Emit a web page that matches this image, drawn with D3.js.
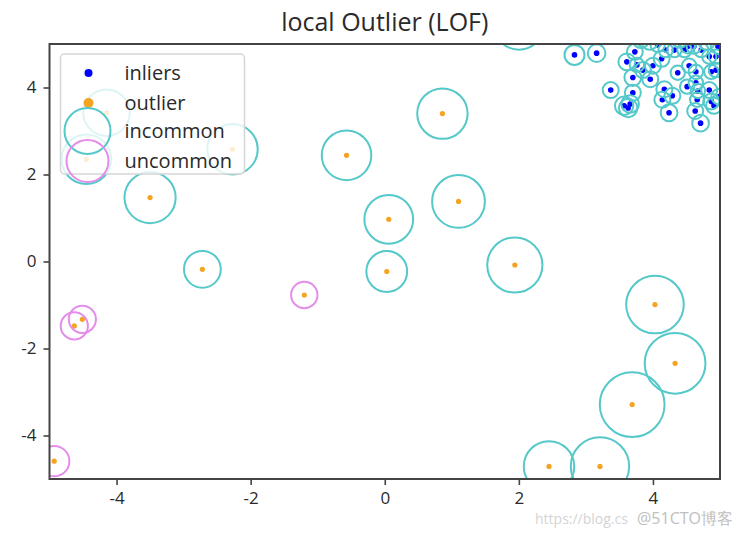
<!DOCTYPE html>
<html>
<head>
<meta charset="utf-8">
<script src="https://cdn.jsdelivr.net/npm/d3@7"></script>
<style>
  body { margin: 0; background: white; }
  text { font-family: "Open Sans", "Noto Sans", sans-serif; }
</style>
</head>
<body>
<div id="chart"></div>
<script>
// inliers (dense corner cluster)
const inlierX = [2.83, 3.16, 3.73, 3.61, 3.76, 3.85, 4.00, 4.13, 3.70, 3.96,
                 3.37, 3.70, 3.57, 3.63, 3.66, 4.17, 4.14, 4.29, 4.24, 4.37,
                 4.54, 4.64, 4.51, 4.64, 4.67, 4.66, 4.63, 4.71, 4.84, 4.87,
                 4.91, 4.99, 4.87, 4.94, 4.84, 4.94, 4.72, 4.61, 4.47, 4.32,
                 4.19, 4.07, 4.52, 4.97, 3.82, 3.95, 4.40, 4.80];
const inlierY = [4.75, 4.79, 4.82, 4.59, 4.52, 4.40, 4.50, 4.66, 4.23, 4.19,
                 3.94, 3.88, 3.58, 3.53, 3.62, 3.96, 3.72, 3.81, 3.42, 4.34,
                 4.50, 4.36, 4.02, 4.11, 3.92, 3.72, 3.46, 3.18, 3.94, 3.68,
                 3.58, 3.79, 4.36, 4.40, 4.71, 4.71, 4.86, 4.94, 4.86, 4.86,
                 4.86, 4.98, 4.95, 4.94, 5.09, 5.05, 5.10, 5.05];
const inlierScore = [0.25, 0.22, 0.20, 0.21, 0.18, 0.20, 0.20, 0.20, 0.21, 0.20,
                     0.20, 0.20, 0.23, 0.23, 0.22, 0.20, 0.20, 0.20, 0.21, 0.18,
                     0.18, 0.18, 0.18, 0.18, 0.18, 0.18, 0.20, 0.21, 0.20, 0.20,
                     0.20, 0.20, 0.18, 0.18, 0.18, 0.18, 0.18, 0.18, 0.18, 0.18,
                     0.18, 0.18, 0.18, 0.18, 0.20, 0.20, 0.20, 0.20];

// outliers
const outlierX = [0.86, -0.57, 0.06, 1.10, 0.03, 1.94, -3.50, -2.72, -1.20, -4.51,
                  -4.63, 4.03, 4.33, 3.69, 2.45, 3.21, -4.93, -4.15, -2.27, -4.45, 2.00];
const outlierY = [3.40, 2.44, 0.97, 1.38, -0.23, -0.08, 1.47, -0.18, -0.77, -1.33,
                  -1.48, -0.99, -2.34, -3.29, -4.71, -4.71, -4.59, 3.42, 2.58, 2.35, 5.45];
const outlierScore = [0.63, 0.62, 0.61, 0.66, 0.51, 0.69, 0.64, 0.46, 0.33, 0.34,
                      0.34, 0.72, 0.76, 0.81, 0.63, 0.73, 0.38, 0.58, 0.63, 0.62, 0.63];
const outlierKind = ["in", "in", "in", "in", "in", "in", "in", "in", "un", "un",
                     "un", "in", "in", "in", "in", "in", "un", "in", "in", "in", "in"];

const xTicks = [-4, -2, 0, 2, 4];
const yTicks = [-4, -2, 0, 2, 4];
const legendLabels = ["inliers", "outlier", "incommon", "uncommon"];

function createFigure(containerId) {
    const width = 740;
    const height = 536;
    const margin = { top: 44, right: 20, bottom: 57, left: 49.5 };
    const w = width - margin.left - margin.right;
    const h = height - margin.top - margin.bottom;

    const teal = "#55c8ca";
    const violet = "#e48ce9";

    const svg = d3.select(`#${containerId}`)
        .append("svg")
        .attr("width", width)
        .attr("height", height);

    const x = d3.scaleLinear().domain([-5, 5]).range([0, w]);
    const y = d3.scaleLinear().domain([-5, 5]).range([h, 0]);
    const r = d3.scaleLinear().domain([0, 1]).range([0, 40]);

    const inliers = inlierX.map((d, i) => ({ x: d, y: inlierY[i], s: inlierScore[i], kind: "in" }));
    const outliers = outlierX.map((d, i) => ({ x: d, y: outlierY[i], s: outlierScore[i], kind: outlierKind[i] }));
    const all = inliers.concat(outliers);

    svg.append("defs").append("clipPath")
        .attr("id", "plot-clip")
        .append("rect")
        .attr("width", w)
        .attr("height", h);

    const g = svg.append("g")
        .attr("transform", `translate(${margin.left},${margin.top})`);

    const plot = g.append("g").attr("clip-path", "url(#plot-clip)");

    // points
    plot.selectAll("circle.inlier")
        .data(inliers)
        .enter()
        .append("circle")
        .attr("cx", d => x(d.x))
        .attr("cy", d => y(d.y))
        .attr("r", 2.8)
        .attr("fill", "#0000ff");

    plot.selectAll("circle.outlier")
        .data(outliers)
        .enter()
        .append("circle")
        .attr("cx", d => x(d.x))
        .attr("cy", d => y(d.y))
        .attr("r", 2.6)
        .attr("fill", "#f5a322");

    // score rings
    plot.selectAll("circle.ring-in")
        .data(all.filter(d => d.kind === "in"))
        .enter()
        .append("circle")
        .attr("cx", d => x(d.x))
        .attr("cy", d => y(d.y))
        .attr("r", d => r(d.s))
        .attr("fill", "none")
        .attr("stroke", teal)
        .attr("stroke-width", 2);

    plot.selectAll("circle.ring-un")
        .data(all.filter(d => d.kind === "un"))
        .enter()
        .append("circle")
        .attr("cx", d => x(d.x))
        .attr("cy", d => y(d.y))
        .attr("r", d => r(d.s))
        .attr("fill", "none")
        .attr("stroke", violet)
        .attr("stroke-width", 2);

    // axes
    const xAxis = g.append("g")
        .attr("transform", `translate(0,${h})`)
        .call(d3.axisBottom(x).tickValues(xTicks).tickSize(6).tickPadding(7).tickFormat(d3.format("d")));
    const yAxis = g.append("g")
        .call(d3.axisLeft(y).tickValues(yTicks).tickSize(6).tickPadding(7).tickFormat(d3.format("d")));

    [xAxis, yAxis].forEach(ax => {
        ax.select(".domain").remove();
        ax.selectAll("line").attr("stroke", "#444").attr("stroke-width", 1.6);
        ax.selectAll("text")
            .attr("fill", "#2a2a2a")
            .style("font-size", "17px")
            .text(d => d < 0 ? "-" + Math.abs(d) : d);
    });

    g.append("rect")
        .attr("width", w)
        .attr("height", h)
        .attr("fill", "none")
        .attr("stroke", "#444")
        .attr("stroke-width", 2);

    // legend
    const legend = g.append("g").attr("transform", "translate(11,10)");
    legend.append("rect")
        .attr("width", 184)
        .attr("height", 120)
        .attr("rx", 4)
        .attr("fill", "white")
        .attr("fill-opacity", 0.8)
        .attr("stroke", "#d6d6d6")
        .attr("stroke-width", 1.5);

    const rowY = [19, 49, 77, 107];
    legend.append("circle").attr("cx", 28).attr("cy", rowY[0]).attr("r", 4).attr("fill", "#0000ff");
    legend.append("circle").attr("cx", 28).attr("cy", rowY[1]).attr("r", 5).attr("fill", "#f5a322");
    legend.append("circle").attr("cx", 27).attr("cy", rowY[2]).attr("r", 23)
        .attr("fill", "none").attr("stroke", teal).attr("stroke-width", 2);
    legend.append("circle").attr("cx", 27).attr("cy", rowY[3]).attr("r", 21)
        .attr("fill", "none").attr("stroke", violet).attr("stroke-width", 2);

    legend.selectAll("text.label")
        .data(legendLabels)
        .enter()
        .append("text")
        .attr("x", 64)
        .attr("y", (d, i) => rowY[i])
        .attr("dy", "0.35em")
        .attr("fill", "#2a2a2a")
        .style("font-size", "20px")
        .text(d => d);

    // title
    svg.append("text")
        .attr("x", margin.left + w / 2)
        .attr("y", 31)
        .attr("text-anchor", "middle")
        .attr("fill", "#2a2a2a")
        .style("font-size", "25px")
        .text("local Outlier (LOF)");

    // watermark
    svg.append("text")
        .attr("x", 535)
        .attr("y", 524)
        .attr("fill", "#d4d4d4")
        .style("font-size", "14px")
        .text("https://blog.cs");
    svg.append("text")
        .attr("x", 637)
        .attr("y", 524)
        .attr("fill", "#c0c0c0")
        .style("font-size", "16px")
        .text("@51CTO博客");
}

createFigure("chart");
</script>
</body>
</html>
